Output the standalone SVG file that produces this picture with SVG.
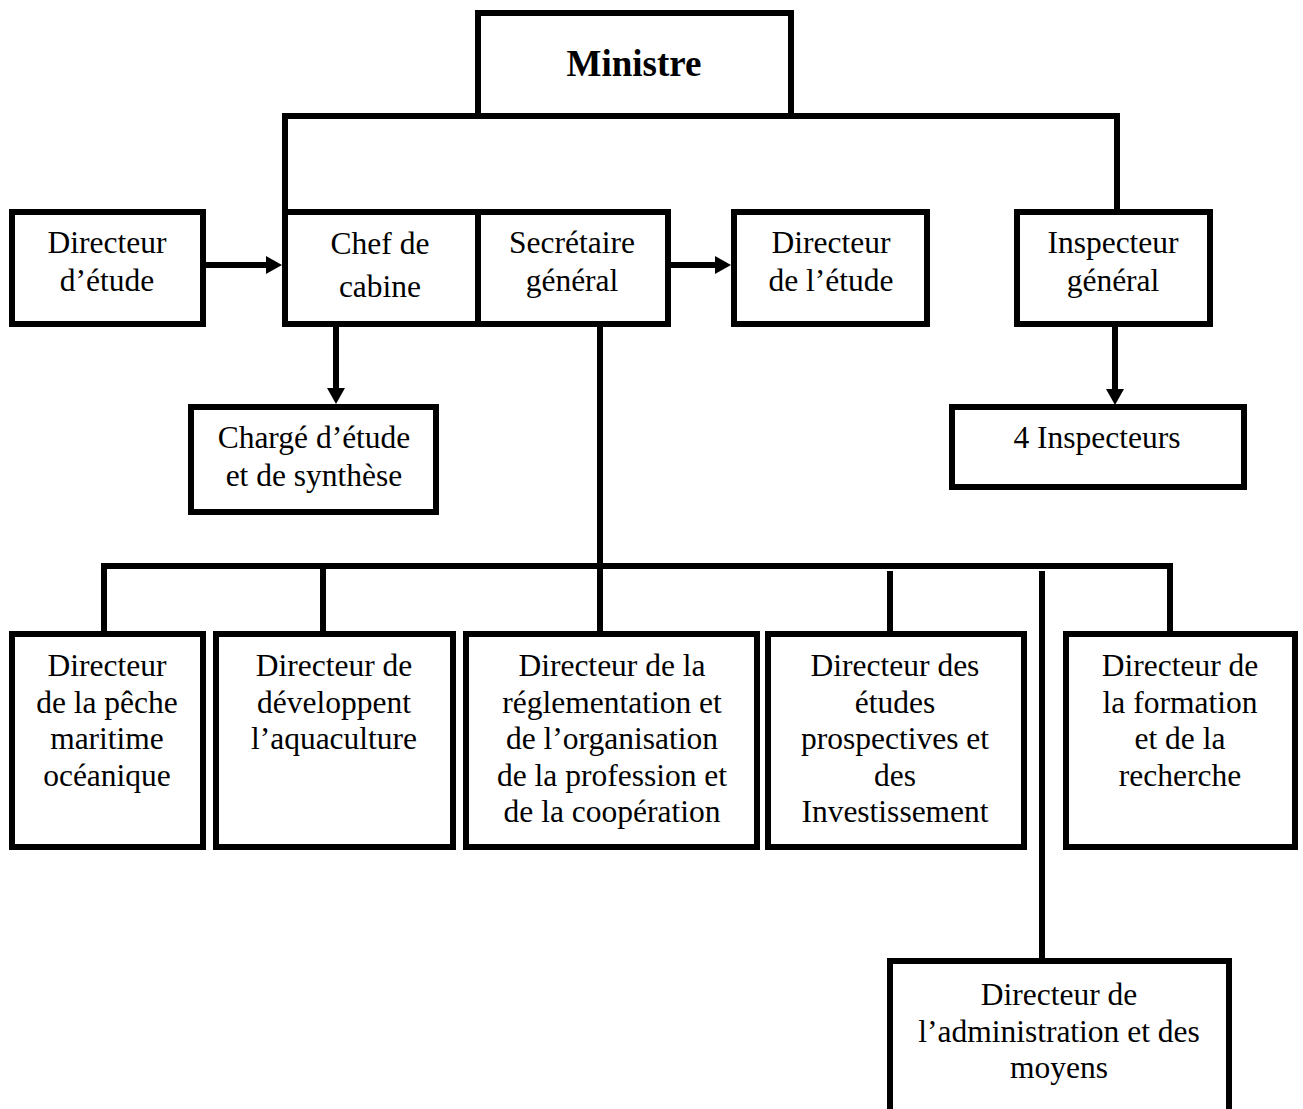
<svg xmlns="http://www.w3.org/2000/svg" width="1303" height="1109" viewBox="0 0 1303 1109">
<style>
.box{fill:#fff;stroke:#000;stroke-width:6}
.ln{fill:none;stroke:#000;stroke-width:6}
.t{font-family:"Liberation Serif","Times New Roman",serif;font-size:31.5px;text-anchor:middle;fill:#000}
.b{font-family:"Liberation Serif","Times New Roman",serif;font-size:37px;font-weight:bold;text-anchor:middle;fill:#000}
</style>
<defs>
<marker id="ah" markerUnits="userSpaceOnUse" markerWidth="16" markerHeight="18" refX="4" refY="9" orient="auto">
<path d="M0,0 L16,9 L0,18 Z" fill="#000"/>
</marker>
</defs>
<rect width="1303" height="1109" fill="#fff"/>
<g id="connectors">
<path class="ln" d="M285,212 V116 H1117 V212"/>
<path class="ln" d="M206,265 H270" marker-end="url(#ah)"/>
<path class="ln" d="M671,265 H719" marker-end="url(#ah)"/>
<path class="ln" d="M336,327 V392" marker-end="url(#ah)"/>
<path class="ln" d="M1115,327 V393" marker-end="url(#ah)"/>
<path class="ln" d="M104,634 V566 H1170 V634"/>
<path class="ln" d="M323,566 V634"/>
<path class="ln" d="M600,324 V634"/>
<path class="ln" d="M890,571 V634"/>
<path class="ln" d="M1042,571 V961"/>
</g>
<g id="ministre">
<rect class="box" x="478" y="13" width="313" height="103"/>
<text class="b" x="634" y="76">Ministre</text>
</g>
<g id="directeur-etude">
<rect class="box" x="12" y="212" width="191" height="112"/>
<text class="t" x="107" y="253">Directeur</text>
<text class="t" x="107" y="291">d’étude</text>
</g>
<g id="chef-cabine">
<rect class="box" x="285" y="212" width="193" height="112"/>
<text class="t" x="380" y="254">Chef de</text>
<text class="t" x="380" y="297">cabine</text>
</g>
<g id="secretaire-general">
<rect class="box" x="478" y="212" width="190" height="112"/>
<text class="t" x="572" y="253">Secrétaire</text>
<text class="t" x="572" y="291">général</text>
</g>
<g id="directeur-de-l-etude">
<rect class="box" x="734" y="212" width="193" height="112"/>
<text class="t" x="831" y="253">Directeur</text>
<text class="t" x="831" y="291">de l’étude</text>
</g>
<g id="inspecteur-general">
<rect class="box" x="1017" y="212" width="193" height="112"/>
<text class="t" x="1113" y="253">Inspecteur</text>
<text class="t" x="1113" y="291">général</text>
</g>
<g id="charge-etude">
<rect class="box" x="191" y="407" width="245" height="105"/>
<text class="t" x="314" y="448">Chargé d’étude</text>
<text class="t" x="314" y="486">et de synthèse</text>
</g>
<g id="inspecteurs">
<rect class="box" x="952" y="407" width="292" height="80"/>
<text class="t" x="1097" y="448">4 Inspecteurs</text>
</g>
<g id="dir-peche">
<rect class="box" x="12" y="634" width="191" height="213"/>
<text class="t" x="107" y="676">Directeur</text>
<text class="t" x="107" y="712.6">de la pêche</text>
<text class="t" x="107" y="749.2">maritime</text>
<text class="t" x="107" y="785.8">océanique</text>
</g>
<g id="dir-aquaculture">
<rect class="box" x="216" y="634" width="237" height="213"/>
<text class="t" x="334" y="676">Directeur de</text>
<text class="t" x="334" y="712.6">développent</text>
<text class="t" x="334" y="749.2">l’aquaculture</text>
</g>
<g id="dir-reglementation">
<rect class="box" x="466" y="634" width="291" height="213"/>
<text class="t" x="612" y="676">Directeur de la</text>
<text class="t" x="612" y="712.6">réglementation et</text>
<text class="t" x="612" y="749.2">de l’organisation</text>
<text class="t" x="612" y="785.8">de la profession et</text>
<text class="t" x="612" y="822.4">de la coopération</text>
</g>
<g id="dir-etudes-prospectives">
<rect class="box" x="768" y="634" width="256" height="213"/>
<text class="t" x="895" y="676">Directeur des</text>
<text class="t" x="895" y="712.6">études</text>
<text class="t" x="895" y="749.2">prospectives et</text>
<text class="t" x="895" y="785.8">des</text>
<text class="t" x="895" y="822.4">Investissement</text>
</g>
<g id="dir-formation">
<rect class="box" x="1066" y="634" width="229" height="213"/>
<text class="t" x="1180" y="676">Directeur de</text>
<text class="t" x="1180" y="712.6">la formation</text>
<text class="t" x="1180" y="749.2">et de la</text>
<text class="t" x="1180" y="785.8">recherche</text>
</g>
<g id="dir-administration">
<rect class="box" x="890" y="961" width="339" height="160"/>
<text class="t" x="1059" y="1005">Directeur de</text>
<text class="t" x="1059" y="1041.6">l’administration et des</text>
<text class="t" x="1059" y="1078.2">moyens</text>
</g>
</svg>
